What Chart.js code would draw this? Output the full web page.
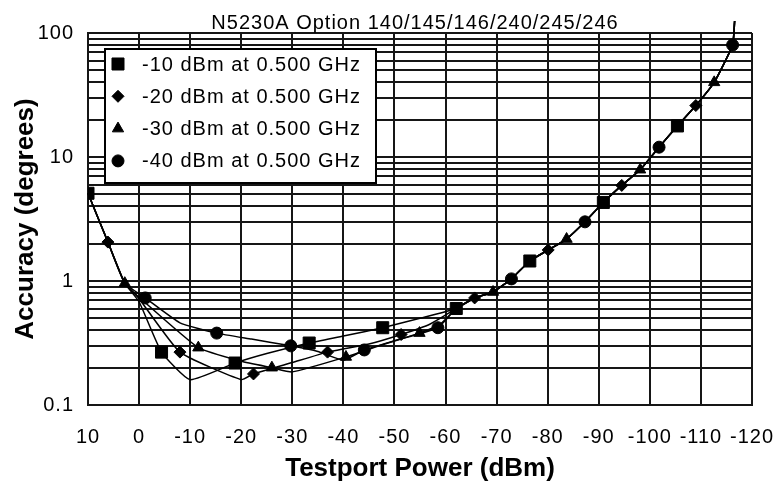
<!DOCTYPE html>
<html>
<head>
<meta charset="utf-8">
<title>N5230A Accuracy vs Testport Power</title>
<script src="https://cdn.jsdelivr.net/npm/chart.js@4/dist/chart.umd.min.js"></script>
<style>
  html, body { margin: 0; padding: 0; background: #fff; }
  #wrap { width: 776px; height: 486px; }
</style>
</head>
<body>
<div id="wrap"><canvas id="chart" width="776" height="486"></canvas></div>
<script>
"use strict";

/* ─── Text ──────────────────────────────────────────────────── */

const CHART_TITLE = "N5230A Option 140/145/146/240/245/246";
const X_TITLE = "Testport Power (dBm)";
const Y_TITLE = "Accuracy (degrees)";
const SERIES_LABELS = [
  "-10 dBm at 0.500 GHz",
  "-20 dBm at 0.500 GHz",
  "-30 dBm at 0.500 GHz",
  "-40 dBm at 0.500 GHz",
];
const SERIES_MARKERS = ["rect", "rectRot", "triangle", "circle"];

/* ─── Axis ticks ────────────────────────────────────────────── */

const X_TICKS = [10, 0, -10, -20, -30, -40, -50, -60, -70, -80, -90, -100, -110, -120];
const Y_MAJOR_TICKS = [0.1, 1, 10, 100];

/* ─── Curves (testport power in dBm, accuracy in degrees) ───── */

/* high-power end, shared by every curve */
const HEAD_POWER = [10, 6.1, 2.8];
const HEAD_ACC = [5.1, 2.06, 0.96];

/* per reference level, where the curves split */
const MID_POWER_10 = [0, -4.4, -10, -18.8, -25, -33.3, -40, -47.7, -55];
const MID_ACC_10 = [0.68, 0.267, 0.16, 0.218, 0.26, 0.316, 0.36, 0.42, 0.5];
const MID_POWER_20 = [0, -8, -20, -22.4, -30, -36.9, -45, -51.3, -57];
const MID_ACC_20 = [0.72, 0.267, 0.16, 0.178, 0.22, 0.267, 0.31, 0.37, 0.45];
const MID_POWER_30 = [0, -11.6, -20, -26, -30, -40.5, -47, -54.9, -59];
const MID_ACC_30 = [0.74, 0.29, 0.225, 0.2, 0.185, 0.244, 0.3, 0.38, 0.45];
const MID_POWER_40 = [-1.2, -8, -15.2, -22, -29.7, -35, -40, -44.1, -50, -58.5];
const MID_ACC_40 = [0.73, 0.46, 0.38, 0.34, 0.3, 0.27, 0.23, 0.278, 0.33, 0.42];

/* low-power end, shared by every curve */
const TAIL_POWER = [-62.1, -65.7, -69.3, -72.9, -76.5, -80.1, -83.7, -87.3, -90.9,
  -94.5, -98.1, -101.8, -105.4, -109, -112.6, -116.2, -116.6];
const TAIL_ACC = [0.6, 0.73, 0.815, 1.04, 1.45, 1.78, 2.18, 3.0, 4.3,
  5.9, 7.9, 12, 17.8, 26, 40, 80, 125];

/* ─── Markers ───────────────────────────────────────────────── */

const MARK_POWER_10 = [10, -4.4, -18.8, -33.3, -47.7, -62.1, -76.5, -90.9, -105.4];
const MARK_ACC_10 = [5.1, 0.267, 0.218, 0.316, 0.42, 0.6, 1.45, 4.3, 17.8];
const MARK_POWER_20 = [6.1, -8, -22.4, -36.9, -51.3, -65.7, -80.1, -94.5, -109];
const MARK_ACC_20 = [2.06, 0.267, 0.178, 0.267, 0.37, 0.73, 1.78, 5.9, 26];
const MARK_POWER_30 = [2.8, -11.6, -26, -40.5, -54.9, -69.3, -83.7, -98.1, -112.6];
const MARK_ACC_30 = [0.96, 0.29, 0.2, 0.244, 0.38, 0.815, 2.18, 7.9, 40];
const MARK_POWER_40 = [-1.2, -15.2, -29.7, -44.1, -58.5, -72.9, -87.3, -101.8, -116.2];
const MARK_ACC_40 = [0.73, 0.38, 0.3, 0.278, 0.42, 1.04, 3.0, 12, 80];

/* ─── Look ──────────────────────────────────────────────────── */

const FONT_FACE = "'Liberation Sans', Arial, sans-serif";
const INK = "#000";
const GRID = "#161616";
const MARKER_RADIUS = { rect: 8.5, rectRot: 6, triangle: 6.5, circle: 6 };

/* ─── Helpers ───────────────────────────────────────────────── */

/* zips two arrays into {x, y} points */
function toPoints(xs, ys) {
  return xs.map(function (x, i) {
    return { x: x, y: ys[i] };
  });
}

/* every 1..9 x 10^n tick between the two decades */
function logTicks(lo, hi) {
  const out = [];
  for (let p = lo; p < hi; p *= 10) {
    for (let m = 1; m <= 9; m++) {
      out.push(Number((m * p).toPrecision(2)));
    }
  }
  out.push(hi);
  return out;
}

function setSpacing(ctx, px) {
  if ("letterSpacing" in ctx) ctx.letterSpacing = px + "px";
}

/* ─── Datasets ──────────────────────────────────────────────── */

const midPower = [MID_POWER_10, MID_POWER_20, MID_POWER_30, MID_POWER_40];
const midAcc = [MID_ACC_10, MID_ACC_20, MID_ACC_30, MID_ACC_40];
const markPower = [MARK_POWER_10, MARK_POWER_20, MARK_POWER_30, MARK_POWER_40];
const markAcc = [MARK_ACC_10, MARK_ACC_20, MARK_ACC_30, MARK_ACC_40];

const datasets = [];

SERIES_LABELS.forEach(function (label, i) {
  const style = SERIES_MARKERS[i];
  datasets.push({
    label: label,
    data: toPoints(markPower[i], markAcc[i]),
    showLine: false,
    pointStyle: style,
    pointRadius: MARKER_RADIUS[style],
    pointBackgroundColor: INK,
    pointBorderColor: INK,
    pointBorderWidth: 1,
    order: 1,
  });
});

SERIES_LABELS.forEach(function (label, i) {
  const xs = HEAD_POWER.concat(midPower[i], TAIL_POWER);
  const ys = HEAD_ACC.concat(midAcc[i], TAIL_ACC);
  datasets.push({
    label: label + " curve",
    data: toPoints(xs, ys),
    borderColor: INK,
    borderWidth: 1.5,
    pointRadius: 0,
    tension: 0.15,
    clip: false,
    order: 2,
  });
});

/* ─── Decorations: title, axis titles, legend ───────────────── */

const decorPlugin = {
  id: "decor",
  beforeDraw: function (chart) {
    /* tick labels in the reference are loosely spaced */
    setSpacing(chart.ctx, 1);
  },
  afterDraw: function (chart) {
    const ctx = chart.ctx;
    const area = chart.chartArea;
    const midX = (area.left + area.right) / 2;

    /* chart title */
    ctx.save();
    setSpacing(ctx, 1);
    ctx.fillStyle = INK;
    ctx.font = "20px " + FONT_FACE;
    ctx.textAlign = "center";
    ctx.textBaseline = "alphabetic";
    ctx.fillText(CHART_TITLE, midX - 5, 29);
    ctx.restore();

    /* axis titles */
    ctx.save();
    setSpacing(ctx, 0);
    ctx.fillStyle = INK;
    ctx.font = "bold 26px " + FONT_FACE;
    ctx.textAlign = "center";
    ctx.textBaseline = "alphabetic";
    ctx.fillText(X_TITLE, midX, 476);
    ctx.translate(33, (area.top + area.bottom) / 2);
    ctx.rotate(-Math.PI / 2);
    ctx.fillText(Y_TITLE, 0, 0);
    ctx.restore();

    /* legend box */
    const box = { x: 105, y: 49, w: 271, h: 134 };
    ctx.save();
    ctx.fillStyle = "#fff";
    ctx.fillRect(box.x, box.y, box.w, box.h);
    ctx.strokeStyle = INK;
    ctx.lineWidth = 2;
    ctx.strokeRect(box.x, box.y, box.w, box.h);

    setSpacing(ctx, 1);
    ctx.font = "20px " + FONT_FACE;
    ctx.textAlign = "left";
    ctx.textBaseline = "middle";
    SERIES_LABELS.forEach(function (label, i) {
      const y = box.y + 15 + i * 32.3;
      const style = SERIES_MARKERS[i];
      ctx.fillStyle = INK;
      ctx.strokeStyle = INK;
      ctx.lineWidth = 1;
      Chart.helpers.drawPoint(ctx, {
        pointStyle: style,
        radius: MARKER_RADIUS[style],
        rotation: 0,
        borderWidth: 1,
      }, box.x + 13, y);
      ctx.fillStyle = INK;
      ctx.fillText(label, box.x + 37, y + 1);
    });
    ctx.restore();
  },
};

/* ─── Chart ─────────────────────────────────────────────────── */

const PLOT_LEFT = 88;
const PLOT_BOTTOM = 405;

new Chart(document.getElementById("chart"), {
  type: "line",
  data: { datasets: datasets },
  options: {
    responsive: false,
    animation: false,
    layout: { padding: { top: 33, right: 24, bottom: 0, left: 0 } },
    plugins: {
      legend: { display: false },
      tooltip: { enabled: false },
      title: { display: false },
    },
    scales: {
      x: {
        type: "linear",
        reverse: true,
        min: -120,
        max: 10,
        afterBuildTicks: function (scale) {
          scale.ticks = X_TICKS.map(function (v) { return { value: v }; });
        },
        afterFit: function (scale) {
          scale.height = 486 - PLOT_BOTTOM;
          /* end labels fit inside the fixed padding */
          scale.paddingLeft = 0;
          scale.paddingRight = 0;
        },
        ticks: {
          autoSkip: false,
          maxRotation: 0,
          padding: 20,
          color: INK,
          font: { family: FONT_FACE, size: 20 },
          callback: function (v) { return String(v); },
        },
        grid: { color: GRID, lineWidth: 2, drawTicks: false },
        border: { color: GRID, width: 2 },
      },
      y: {
        type: "logarithmic",
        min: 0.1,
        max: 100,
        afterBuildTicks: function (scale) {
          scale.ticks = logTicks(0.1, 100).map(function (v) { return { value: v }; });
        },
        afterFit: function (scale) {
          scale.width = PLOT_LEFT;
        },
        ticks: {
          autoSkip: false,
          padding: 14,
          color: INK,
          font: { family: FONT_FACE, size: 20 },
          callback: function (v) {
            return Y_MAJOR_TICKS.indexOf(v) >= 0 ? String(v) : "";
          },
        },
        grid: { color: GRID, lineWidth: 2, drawTicks: false },
        border: { color: GRID, width: 2 },
      },
    },
  },
  plugins: [decorPlugin],
});
</script>
</body>
</html>
